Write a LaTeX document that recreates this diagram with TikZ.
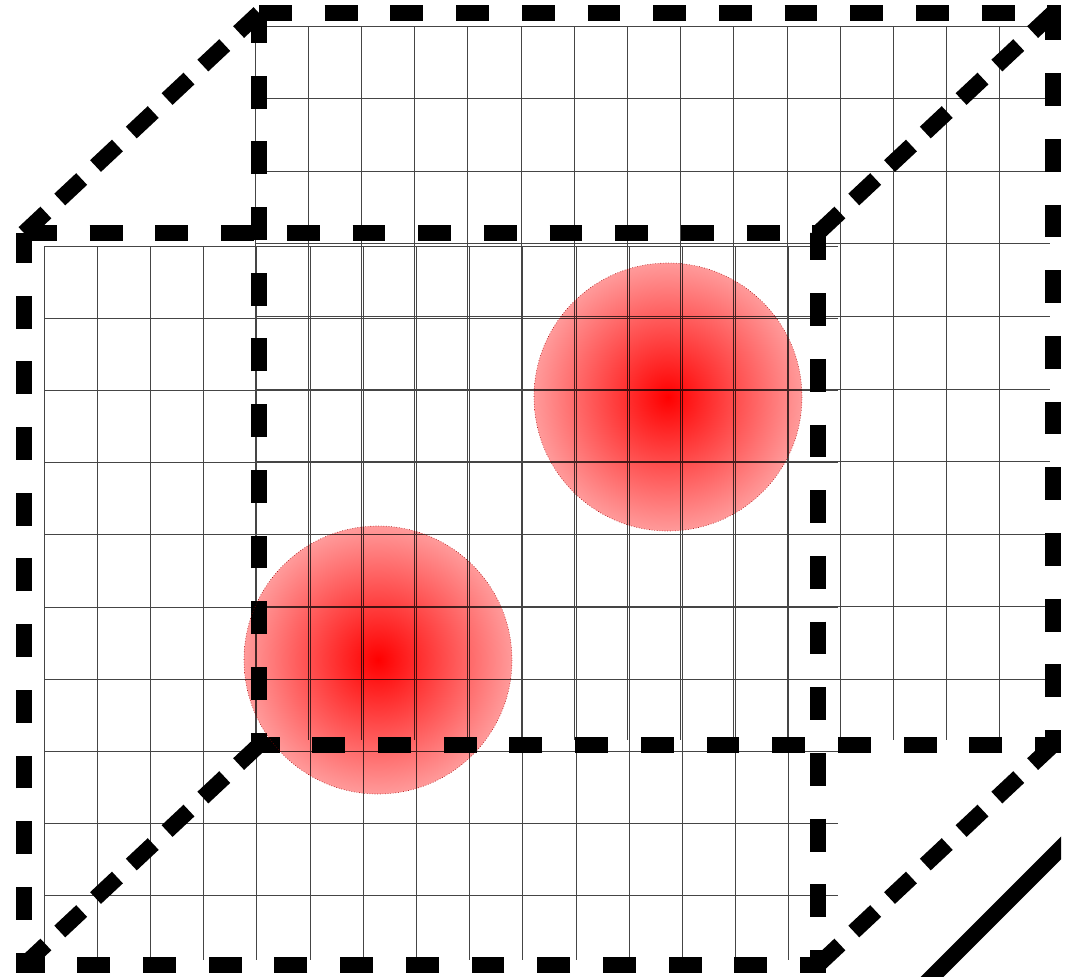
\documentclass[tikz,border=0pt]{standalone}
\usetikzlibrary{calc}
\definecolor{gridgray}{HTML}{454545}
\definecolor{hotred}{HTML}{FF0000}
\definecolor{hotpink}{HTML}{FF9A9A}

\begin{document}
\begin{tikzpicture}[x=1pt, y=-1pt,
    gridline/.style={draw=gridgray, line width=1pt},
    cubeedge/.style={draw=black, line width=16pt, dash pattern=on 32.85pt off 32.85pt},
    cubediag/.style={draw=black, line width=16pt, dash pattern=on 30pt off 19pt},
    hotspot/.style={inner color=hotred, outer color=hotpink},
    hotrim/.style={draw=red!60!black, line width=0.6pt, dotted}]
  \useasboundingbox (0,0) rectangle (1077,977);
  \clip (0,0) rectangle (1061,977);

  % corners of the box
  \coordinate (F1) at (24,233);  \coordinate (F2) at (818,233);
  \coordinate (F3) at (818,965); \coordinate (F4) at (24,965);
  \coordinate (B1) at (259,13);  \coordinate (B2) at (1053,13);
  \coordinate (B3) at (1053,745); \coordinate (B4) at (259,745);

  % grid on the back wall
  \foreach \i in {0,...,14}
    \draw[gridline] ({255+53.2*\i},26) -- ({255+53.2*\i},740);
  \foreach \j in {0,...,9}
    \draw[gridline] (255,{26+72.6*\j}) -- (1050,{26+72.6*\j});

  % grid on the front wall
  \foreach \i in {0,...,14}
    \draw[gridline] ({44+53.2*\i},246) -- ({44+53.2*\i},960);
  \foreach \j in {0,...,9}
    \draw[gridline] (44,{246+72.2*\j}) -- (838,{246+72.2*\j});

  % dashed box
  \draw[cubeedge] (B1) -- (B2) -- (B3) -- (B4) -- cycle;
  \draw[cubeedge] (F1) -- (F2) -- (F3) -- (F4) -- cycle;
  \foreach \c in {1,...,4}
    \draw[cubediag] (F\c) -- (B\c);

  % hot spots
  \coordinate (hotA) at (668,397);
  \coordinate (hotB) at (378,660);
  \begin{scope}[blend mode=multiply]
    \shade[hotspot] (hotA) circle[radius=134];
    \shade[hotspot] (hotB) circle[radius=134];
  \end{scope}
  \draw[hotrim] (hotA) circle[radius=134];
  \draw[hotrim] (hotB) circle[radius=134];

  % edge of the next box
  \coordinate (N1) at (922,987);
  \coordinate (N2) at (1071,838);
  \draw[line width=16pt] (N1) -- (N2);
\end{tikzpicture}
\end{document}
